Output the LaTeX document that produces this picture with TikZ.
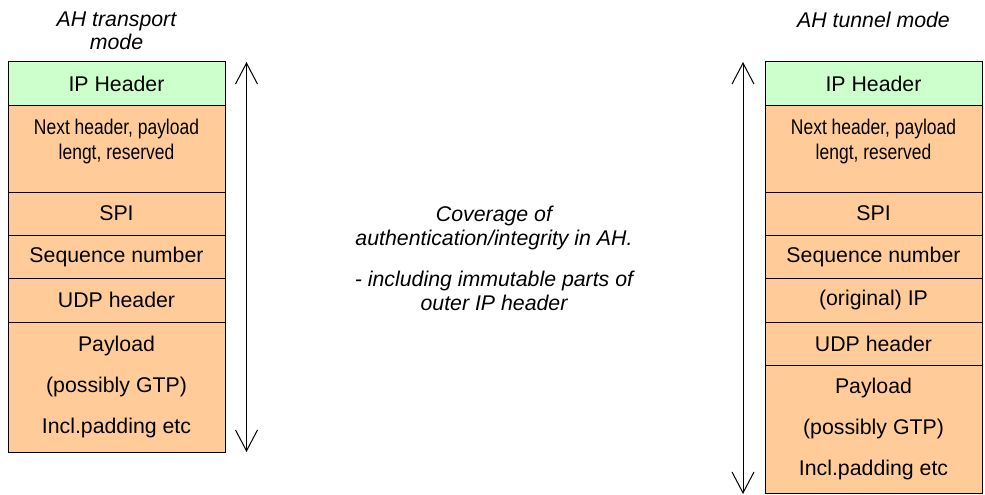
\documentclass[tikz,border=0pt]{standalone}
\usepackage{fontspec}
\setmainfont{Liberation Sans}
\newfontfamily\narrowfont[FakeStretch=0.82]{Liberation Sans}
\usetikzlibrary{arrows.meta,calc}
\definecolor{hdrgreen}{HTML}{CCFFCC}
\definecolor{pkorange}{HTML}{FFCC99}
\begin{document}
\begin{tikzpicture}[x=1pt,y=-1pt,
  pk/.style={draw=black, line width=1pt, fill=pkorange, minimum width=217pt,
    inner sep=0pt, outer sep=0pt, anchor=north, align=center,
    font=\fontsize{21.3pt}{25pt}\selectfont},
  iphdr/.style={pk, fill=hdrgreen},
  narrowtxt/.style={align=center, inner sep=0pt, font=\narrowfont\fontsize{21.3pt}{25pt}\selectfont},
  paytxt/.style={font=\fontsize{21.3pt}{41pt}\selectfont},
  title/.style={align=center, inner sep=0pt, font=\itshape\fontsize{21.3pt}{23.5pt}\selectfont},
  cover/.style={draw=black, line width=1pt, {Straight Barb[length=21pt,width=22pt]}-{Straight Barb[length=21pt,width=22pt]}}
]
\useasboundingbox (0,0) rectangle (985,495);

% ---------- left: transport mode ----------
\node[title] (ltitle) at (116.5,31) {AH transport\\mode};
\node[iphdr, minimum height=43pt] (l1) at (116.5,62) {IP Header};
\node[pk, minimum height=87pt] (l2) at (l1.south) {};
\node[narrowtxt] (l2t) at ($(l2.north)+(0,36.5)$) {Next header, payload\\lengt, reserved};
\node[pk, minimum height=43pt] (l3) at (l2.south) {SPI};
\node[pk, minimum height=43pt] (l4) at (l3.south) {Sequence number};
\node[pk, minimum height=44pt] (l5) at (l4.south) {UDP header};
\node[pk, paytxt, minimum height=130pt] (l6) at (l5.south) {Payload\\(possibly GTP)\\Incl.padding etc};

\coordinate (lat) at (246.5,62);
\coordinate (lab) at (246.5,452);
\draw[cover] (lat) -- (lab);

% ---------- centre text ----------
\node[title, font=\itshape\fontsize{21.3pt}{24pt}\selectfont] (ctext) at (494,258)
  {Coverage of\\authentication/integrity in AH.\\[17pt]- including immutable parts of\\outer IP header};

% ---------- right: tunnel mode ----------
\node[title] (rtitle) at (873.5,20) {AH tunnel mode};
\node[iphdr, minimum height=43pt] (r1) at (873.5,62) {IP Header};
\node[pk, minimum height=87pt] (r2) at (r1.south) {};
\node[narrowtxt] (r2t) at ($(r2.north)+(0,36.5)$) {Next header, payload\\lengt, reserved};
\node[pk, minimum height=43pt] (r3) at (r2.south) {SPI};
\node[pk, minimum height=43pt] (r4) at (r3.south) {Sequence number};
\node[pk, minimum height=44pt] (r5) at (r4.south) {(original) IP};
\node[pk, minimum height=43pt] (r6) at (r5.south) {UDP header};
\node[pk, paytxt, minimum height=128pt] (r7) at (r6.south) {Payload\\(possibly GTP)\\Incl.padding etc};

\coordinate (rat) at (743,62);
\coordinate (rab) at (743,494);
\draw[cover] (rat) -- (rab);
\end{tikzpicture}
\end{document}
